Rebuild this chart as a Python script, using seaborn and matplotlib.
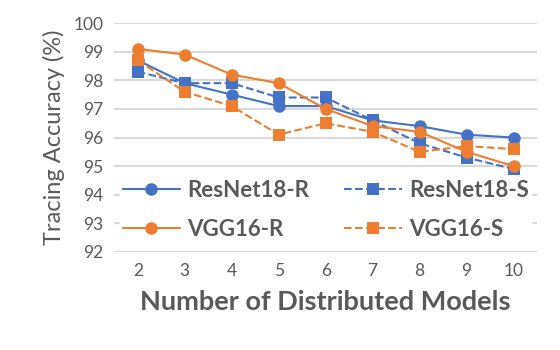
import pandas as pd
import seaborn as sns
import matplotlib
matplotlib.use("Agg")
import matplotlib.pyplot as plt

models = [2, 3, 4, 5, 6, 7, 8, 9, 10]
resnet_r = [98.7, 97.9, 97.5, 97.1, 97.1, 96.6, 96.4, 96.1, 96.0]
resnet_s = [98.3, 97.9, 97.9, 97.4, 97.4, 96.6, 95.8, 95.3, 94.9]
vgg_r = [99.1, 98.9, 98.2, 97.9, 97.0, 96.4, 96.2, 95.5, 95.0]
vgg_s = [98.7, 97.6, 97.1, 96.1, 96.5, 96.2, 95.5, 95.7, 95.6]
yticks = [92, 93, 94, 95, 96, 97, 98, 99, 100]

sns.set_style("white")
plt.rcParams["font.family"] = ["Lato", "DejaVu Sans"]

blue = "#4472C4"
orange = "#ED7D31"
grey = "#595959"

fig = plt.figure(figsize=(5.6, 3.5), dpi=100)
ax = fig.add_axes([0.204, 0.28, 0.755, 0.654])

series = [
    ("ResNet18-R", resnet_r, blue, "o", "-"),
    ("ResNet18-S", resnet_s, blue, "s", "--"),
    ("VGG16-R", vgg_r, orange, "o", "-"),
    ("VGG16-S", vgg_s, orange, "s", "--"),
]
for name, vals, col, mk, ls in series:
    df = pd.DataFrame({"x": models, "y": vals})
    sns.lineplot(data=df, x="x", y="y", ax=ax, color=col, marker=mk,
                 linestyle=ls, markersize=9, markeredgewidth=0,
                 linewidth=1.5, label=name)

ax.set_xlim(1.5, 10.5)
ax.set_ylim(92, 100)
ax.set_xticks(models)
ax.set_yticks(yticks)
ax.grid(axis="y", color="#D9D9D9", linewidth=1.5)
ax.set_axisbelow(True)
for s in ax.spines.values():
    s.set_visible(False)
ax.tick_params(axis="both", length=0, labelsize=12.5, labelcolor=grey, pad=8)

ax.set_ylabel("Tracing Accuracy (%)", fontsize=17, color=grey, labelpad=6)
ax.set_xlabel("Number of Distributed Models", fontsize=19.5, fontweight="bold",
              color=grey, labelpad=8)

# row-major order like the original: matplotlib fills legend columns first
h, l = ax.get_legend_handles_labels()
order = [0, 2, 1, 3]
leg = ax.legend([h[i] for i in order], [l[i] for i in order], ncol=2,
                loc="lower center", bbox_to_anchor=(0.5, -0.005),
                frameon=True, facecolor="white", edgecolor="white",
                framealpha=1, fontsize=16, handlelength=2.6,
                handletextpad=0.3, columnspacing=1.6, borderpad=0.1,
                labelspacing=0.8)
for t in leg.get_texts():
    t.set_color(grey)
    t.set_fontweight("bold")

fig.savefig("out.png", dpi=100)
